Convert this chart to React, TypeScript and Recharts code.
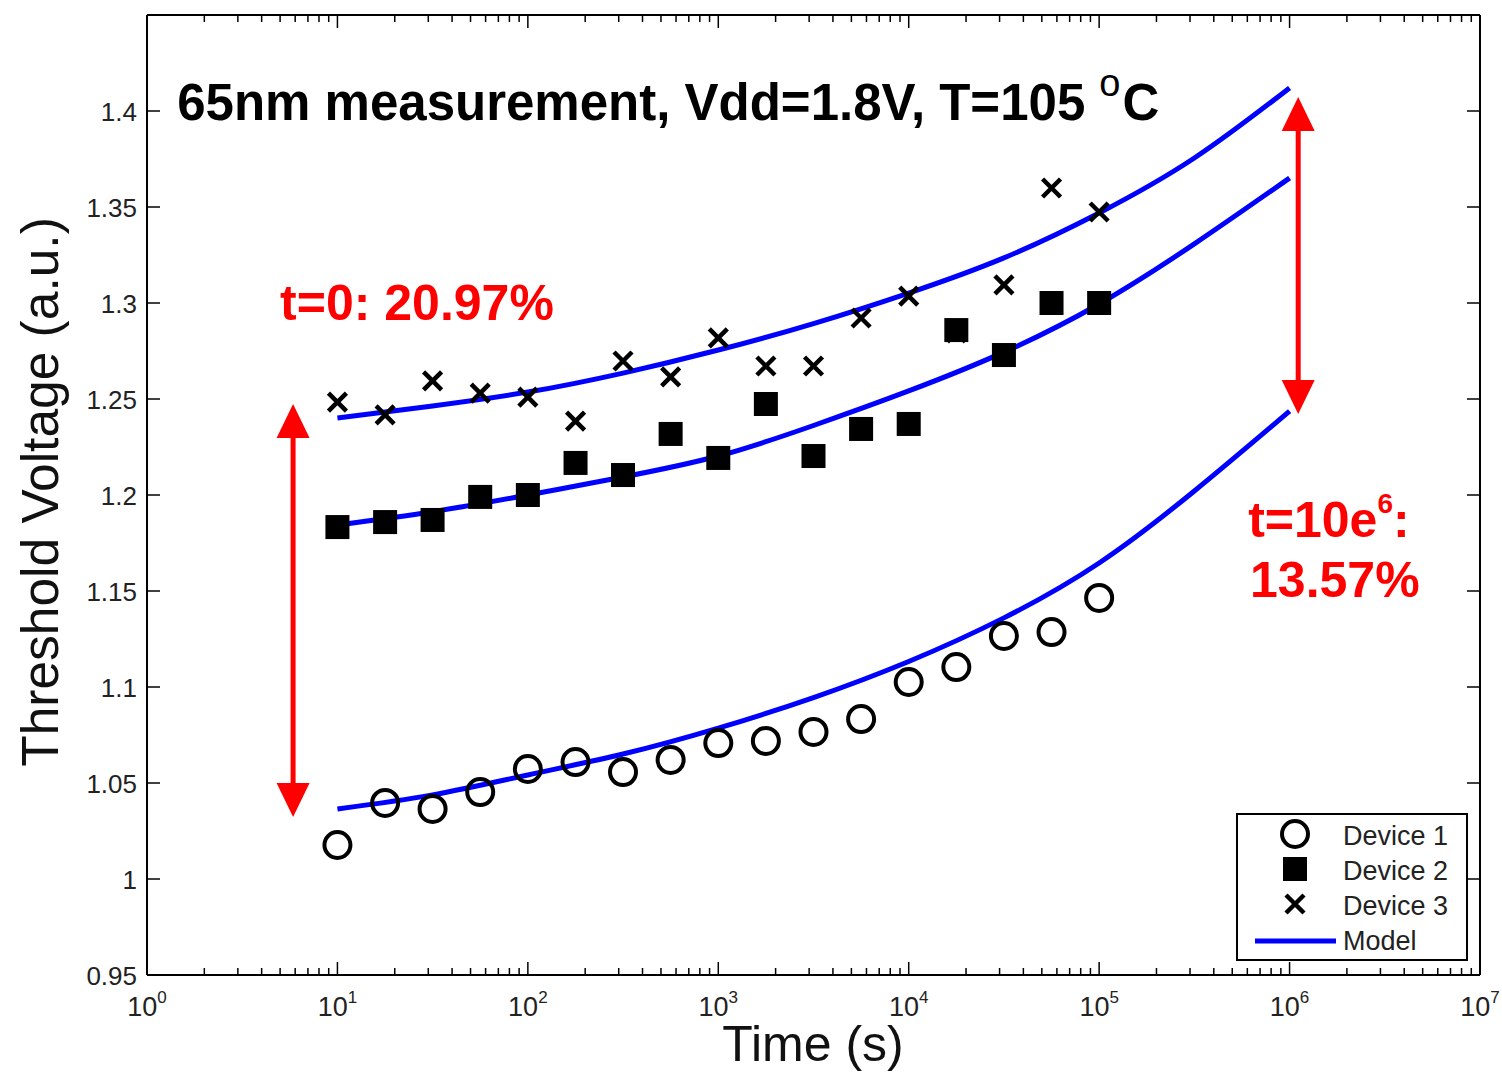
import React from 'react';
import {
  ComposedChart,
  XAxis,
  YAxis,
  Scatter,
  Line,
  ReferenceLine,
  ReferenceDot,
  Legend,
} from 'recharts';

const FONT = '"Liberation Sans", Arial, Helvetica, sans-serif';

// measurement times (s), quarter-decade spacing
const times = [10, 17.8, 31.6, 56.2, 100, 178, 316, 562, 1000, 1778, 3162, 5623, 10000, 17783, 31623, 56234, 100000];
const device1 = [1.0177, 1.0396, 1.0365, 1.0453, 1.0573, 1.0609, 1.0557, 1.062, 1.0708, 1.0719, 1.0766, 1.0833, 1.1026, 1.1104, 1.1266, 1.1286, 1.1464];
const device2 = [1.1833, 1.1859, 1.187, 1.199, 1.2, 1.2167, 1.2104, 1.2318, 1.2193, 1.2474, 1.2203, 1.2344, 1.237, 1.2859, 1.2729, 1.3, 1.3];
const device3 = [1.2484, 1.2417, 1.2594, 1.2531, 1.251, 1.2385, 1.2698, 1.2615, 1.2818, 1.2672, 1.2672, 1.2922, 1.3036, 1.2844, 1.3094, 1.3599, 1.3474];

// model curves
const modelTimes = [10, 31.6, 100, 316, 1000, 3162, 10000, 31623, 100000, 316228, 1000000];
const model1 = [1.0365, 1.0438, 1.0542, 1.0651, 1.0786, 1.0945, 1.1133, 1.136, 1.1646, 1.2021, 1.2437];
const model2 = [1.1844, 1.1913, 1.2, 1.2094, 1.2203, 1.2362, 1.2542, 1.2744, 1.2995, 1.3308, 1.3651];
const model3 = [1.2401, 1.2464, 1.2536, 1.2635, 1.2755, 1.2893, 1.3052, 1.3235, 1.3469, 1.3755, 1.412];

// axis ticks
const xMajorTicks = [1, 10, 100, 1000, 10000, 100000, 1000000, 10000000];
const xMinorSteps = [2, 3, 4, 5, 6, 7, 8, 9];
const yTicks = [0.95, 1, 1.05, 1.1, 1.15, 1.2, 1.25, 1.3, 1.35, 1.4];

const xTicks = [
  ...xMajorTicks,
  ...xMajorTicks.slice(0, -1).flatMap((d) => xMinorSteps.map((m) => m * d)),
].sort((a, b) => a - b);

const toPoints = (xs: number[], ys: number[]) => xs.map((t, i) => ({ t, v: ys[i] }));

const d1Data = toPoints(times, device1);
const d2Data = toPoints(times, device2);
const d3Data = toPoints(times, device3);
const m1Data = toPoints(modelTimes, model1);
const m2Data = toPoints(modelTimes, model2);
const m3Data = toPoints(modelTimes, model3);

const legendItems = [
  { name: 'Device 1', kind: 'circle' },
  { name: 'Device 2', kind: 'square' },
  { name: 'Device 3', kind: 'cross' },
  { name: 'Model', kind: 'line' },
];

const isMajor = (v: number) => Math.abs(Math.log10(v) - Math.round(Math.log10(v))) < 1e-9;

const BottomTick = ({ x, y, payload }: any) => {
  const v = payload.value;
  const major = isMajor(v);
  return (
    <g>
      <line x1={x} x2={x} y1={y} y2={y - (major ? 13 : 7)} stroke="#000" strokeWidth={1.5} />
      {major && (
        <text x={x} y={y + 41} textAnchor="middle" fontSize={27} fill="#222" fontFamily={FONT}>
          10
          <tspan dy={-13} fontSize={17}>
            {Math.round(Math.log10(v))}
          </tspan>
        </text>
      )}
    </g>
  );
};

const TopTick = ({ x, y, payload }: any) => (
  <line x1={x} x2={x} y1={y} y2={y + (isMajor(payload.value) ? 13 : 7)} stroke="#000" strokeWidth={1.5} />
);

const LeftTick = ({ x, y, payload }: any) => (
  <g>
    <line x1={x} x2={x + 13} y1={y} y2={y} stroke="#000" strokeWidth={1.5} />
    <text x={x - 10} y={y + 10} textAnchor="end" fontSize={26} fill="#222" fontFamily={FONT}>
      {String(Number(payload.value.toFixed(2)))}
    </text>
  </g>
);

const RightTick = ({ x, y }: any) => <line x1={x} x2={x - 13} y1={y} y2={y} stroke="#000" strokeWidth={1.5} />;

const Circle = ({ cx, cy }: any) => <circle cx={cx} cy={cy} r={13} fill="none" stroke="#000" strokeWidth={4} />;
const Square = ({ cx, cy }: any) => <rect x={cx - 12} y={cy - 12} width={24} height={24} fill="#000" />;
const Cross = ({ cx, cy }: any) => (
  <path d={`M${cx - 9} ${cy - 9} L${cx + 9} ${cy + 9} M${cx + 9} ${cy - 9} L${cx - 9} ${cy + 9}`} stroke="#000" strokeWidth={4.5} />
);

const DoubleArrow = ({ x1, y1, y2 }: any) => {
  const top = Math.min(y1, y2);
  const bottom = Math.max(y1, y2);
  const hl = 34;
  const hw = 16.5;
  return (
    <g>
      <line x1={x1} x2={x1} y1={top + hl - 2} y2={bottom - hl + 2} stroke="#ff0000" strokeWidth={5} />
      <polygon points={`${x1},${top} ${x1 - hw},${top + hl} ${x1 + hw},${top + hl}`} fill="#ff0000" />
      <polygon points={`${x1},${bottom} ${x1 - hw},${bottom - hl} ${x1 + hw},${bottom - hl}`} fill="#ff0000" />
    </g>
  );
};

const LegendBox = () => (
  <svg width={232} height={148}>
    <rect x={1} y={1} width={230} height={146} fill="#fff" stroke="#000" strokeWidth={2} />
    {legendItems.map((item, i) => {
      const cy = 21 + i * 35;
      return (
        <g key={item.name}>
          {item.kind === 'circle' && <Circle cx={59} cy={cy} />}
          {item.kind === 'square' && <Square cx={59} cy={cy} />}
          {item.kind === 'cross' && <Cross cx={59} cy={cy} />}
          {item.kind === 'line' && <line x1={19} x2={100} y1={cy + 2} y2={cy + 2} stroke="#0000ff" strokeWidth={5} />}
          <text x={107} y={cy + 11} fontSize={27} fill="#222" fontFamily={FONT}>
            {item.name}
          </text>
        </g>
      );
    })}
  </svg>
);

export default function App() {
  return (
    <div style={{ position: 'absolute', left: 0, top: 0, width: 1502, height: 1077, background: '#fff' }}>
      <ComposedChart width={1502} height={1077} margin={{ top: 0, right: 0, bottom: 0, left: 0 }}>
        <XAxis
          dataKey="t"
          type="number"
          scale="log"
          domain={[1, 10000000]}
          ticks={xTicks}
          interval={0}
          allowDataOverflow
          height={102}
          tickSize={0}
          tickMargin={0}
          tickLine={false}
          axisLine={{ stroke: '#000', strokeWidth: 2 }}
          tick={<BottomTick />}
        />
        <XAxis
          xAxisId="top"
          orientation="top"
          dataKey="t"
          type="number"
          scale="log"
          domain={[1, 10000000]}
          ticks={xTicks}
          interval={0}
          allowDataOverflow
          height={15}
          tickSize={0}
          tickMargin={0}
          tickLine={false}
          axisLine={{ stroke: '#000', strokeWidth: 2 }}
          tick={<TopTick />}
        />
        <YAxis
          type="number"
          domain={[0.95, 1.45]}
          ticks={yTicks}
          interval={0}
          allowDataOverflow
          width={147}
          tickSize={0}
          tickMargin={0}
          tickLine={false}
          axisLine={{ stroke: '#000', strokeWidth: 2 }}
          tick={<LeftTick />}
          label={{
            value: 'Threshold Voltage (a.u.)',
            position: 'insideLeft',
            content: () => (
              <text
                x={40}
                y={492}
                transform="rotate(-90 40 492)"
                textAnchor="middle"
                dominantBaseline="central"
                fontSize={51.5}
                fill="#111"
                fontFamily={FONT}
              >
                Threshold Voltage (a.u.)
              </text>
            ),
          }}
        />
        <YAxis
          yAxisId="right"
          orientation="right"
          type="number"
          domain={[0.95, 1.45]}
          ticks={yTicks}
          interval={0}
          allowDataOverflow
          width={22}
          tickSize={0}
          tickMargin={0}
          tickLine={false}
          axisLine={{ stroke: '#000', strokeWidth: 2 }}
          tick={<RightTick />}
        />

        <Scatter name="Device 1" data={d1Data} dataKey="v" shape={<Circle />} isAnimationActive={false} />
        <Scatter name="Device 2" data={d2Data} dataKey="v" shape={<Square />} isAnimationActive={false} />
        <Scatter name="Device 3" data={d3Data} dataKey="v" shape={<Cross />} isAnimationActive={false} />

        <Line data={m1Data} dataKey="v" type="natural" stroke="#0000ff" strokeWidth={5} dot={false} activeDot={false} isAnimationActive={false} />
        <Line data={m2Data} dataKey="v" type="natural" stroke="#0000ff" strokeWidth={5} dot={false} activeDot={false} isAnimationActive={false} />
        <Line data={m3Data} dataKey="v" type="natural" stroke="#0000ff" strokeWidth={5} dot={false} activeDot={false} isAnimationActive={false} />

        <ReferenceLine segment={[{ x: 5.85, y: 1.2474 }, { x: 5.85, y: 1.0323 }]} shape={<DoubleArrow />} />
        <ReferenceLine segment={[{ x: 1110000, y: 1.4073 }, { x: 1110000, y: 1.2422 }]} shape={<DoubleArrow />} />

        <ReferenceDot
          x={1.44}
          y={1.3953}
          r={0}
          shape={({ cx, cy }: any) => (
            <text x={cx} y={cy} fontSize={51} fontWeight="bold" fill="#000" fontFamily={FONT}>
              65nm measurement, Vdd=1.8V, T=105
              <tspan dx={14} dy={-24} fontSize={38} fontWeight="normal">o</tspan>
              <tspan dx={2} dy={24}>C</tspan>
            </text>
          )}
        />
        <ReferenceDot
          x={5.0}
          y={1.2911}
          r={0}
          shape={({ cx, cy }: any) => (
            <text x={cx} y={cy} fontSize={50} fontWeight="bold" fill="#ff0000" fontFamily={FONT}>
              t=0: 20.97%
            </text>
          )}
        />
        <ReferenceDot
          x={606000}
          y={1.1781}
          r={0}
          shape={({ cx, cy }: any) => (
            <text x={cx} y={cy} fontSize={50} fontWeight="bold" fill="#ff0000" fontFamily={FONT}>
              t=10e
              <tspan dy={-24} fontSize={28}>6</tspan>
              <tspan dy={24}>:</tspan>
            </text>
          )}
        />
        <ReferenceDot
          x={620000}
          y={1.1469}
          r={0}
          shape={({ cx, cy }: any) => (
            <text x={cx} y={cy} fontSize={50} fontWeight="bold" fill="#ff0000" fontFamily={FONT}>
              13.57%
            </text>
          )}
        />

        <Legend
          layout="vertical"
          align="center"
          verticalAlign="middle"
          wrapperStyle={{ left: 1236, top: 813, width: 232, height: 148 }}
          content={() => <LegendBox />}
        />
      </ComposedChart>
      <div
        style={{
          position: 'absolute',
          left: 0,
          width: 1502,
          top: 1014,
          textAlign: 'center',
          paddingLeft: 124,
          boxSizing: 'border-box',
          fontSize: 50,
          fontFamily: FONT,
          color: '#111',
          lineHeight: '60px',
        }}
      >
        Time (s)
      </div>
    </div>
  );
}
